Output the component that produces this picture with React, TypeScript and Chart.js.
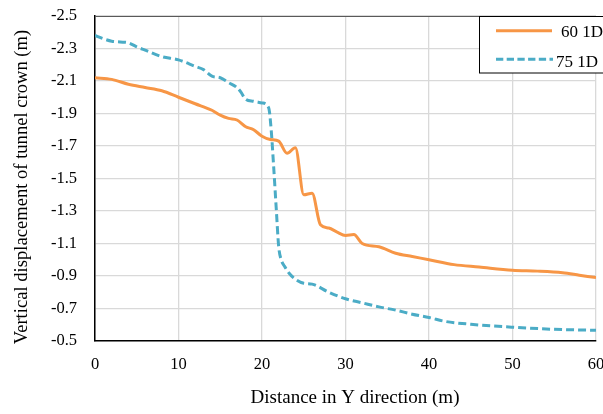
import React, { useEffect, useRef } from "react";
import { Chart, registerables } from "chart.js";

Chart.register(...registerables);

// ---- data ----
const seriesNames = ["60 1D", "75 1D"];

const dist60 = [0, 2, 4, 6, 8, 10, 12, 14, 15, 16, 17, 18, 19, 20, 21, 22, 23, 24, 25, 26, 27, 28, 29, 30, 31, 32, 34, 36, 38, 40, 43, 46, 50, 53, 56, 58, 60];
const disp60 = [-2.12, -2.11, -2.08, -2.06, -2.04, -2.0, -1.96, -1.92, -1.89, -1.87, -1.86, -1.82, -1.8, -1.76, -1.74, -1.73, -1.655, -1.69, -1.4, -1.41, -1.215, -1.195, -1.17, -1.15, -1.155, -1.1, -1.08, -1.04, -1.02, -1.0, -0.97, -0.955, -0.935, -0.93, -0.92, -0.905, -0.89];

const dist75 = [0, 1, 2, 3, 4, 5, 6, 8, 10, 12, 13, 14, 15, 16, 17, 17.5, 18, 19, 20, 20.8, 21.1, 21.4, 21.7, 22, 22.3, 22.7, 23.2, 24, 25, 26, 28, 30, 32, 34, 36, 38, 40, 42, 45, 50, 55, 60];
const disp75 = [-2.38, -2.36, -2.345, -2.34, -2.335, -2.31, -2.29, -2.25, -2.23, -2.19, -2.17, -2.13, -2.12, -2.09, -2.06, -2.03, -1.99, -1.975, -1.965, -1.935, -1.8, -1.57, -1.32, -1.08, -1.0, -0.96, -0.92, -0.88, -0.855, -0.85, -0.8, -0.76, -0.735, -0.71, -0.69, -0.665, -0.645, -0.62, -0.603, -0.585, -0.572, -0.566];

const xTicks = [0, 10, 20, 30, 40, 50, 60];
const yTicks = [-2.5, -2.3, -2.1, -1.9, -1.7, -1.5, -1.3, -1.1, -0.9, -0.7, -0.5];

const xTitle = "Distance in Y direction (m)";
const yTitle = "Vertical displacement of tunnel crown (m)";

const ORANGE = "#F79646";
const BLUE = "#4BACC6";
const FONT = "'Liberation Serif', 'Times New Roman', serif";

const decorPlugin = {
  id: "decor",
  afterDraw(chart: any) {
    const ctx = chart.ctx as CanvasRenderingContext2D;
    const area = chart.chartArea;
    ctx.save();
    // top plot border
    ctx.strokeStyle = "#595959";
    ctx.lineWidth = 1;
    ctx.beginPath();
    ctx.moveTo(area.left, area.top + 0.5);
    ctx.lineTo(chart.width, area.top + 0.5);
    ctx.stroke();

    // axis titles
    ctx.fillStyle = "#000";
    ctx.textAlign = "center";
    ctx.textBaseline = "middle";
    ctx.font = `19px ${FONT}`;
    ctx.fillText(xTitle, 355, 398.5);
    ctx.save();
    ctx.translate(22, 187);
    ctx.rotate(-Math.PI / 2);
    ctx.font = `18.6px ${FONT}`;
    ctx.fillText(yTitle, 0, 0);
    ctx.restore();

    // legend
    const lx = 479.5;
    const ly = area.top + 0.5;
    ctx.fillStyle = "#fff";
    ctx.fillRect(lx, ly, chart.width - lx + 5, 56.5);
    ctx.strokeStyle = "#000";
    ctx.lineWidth = 1;
    ctx.strokeRect(lx, ly, chart.width - lx + 5, 56.5);

    ctx.lineWidth = 3;
    ctx.strokeStyle = ORANGE;
    ctx.setLineDash([]);
    ctx.beginPath();
    ctx.moveTo(496, 30.7);
    ctx.lineTo(552, 30.7);
    ctx.stroke();

    ctx.strokeStyle = BLUE;
    ctx.setLineDash([7.3, 3.4]);
    ctx.beginPath();
    ctx.moveTo(496, 59.3);
    ctx.lineTo(553, 59.3);
    ctx.stroke();
    ctx.setLineDash([]);

    ctx.fillStyle = "#000";
    ctx.textAlign = "left";
    ctx.textBaseline = "alphabetic";
    ctx.font = `17px ${FONT}`;
    ctx.fillText(seriesNames[0], 561, 36.5);
    ctx.fillText(seriesNames[1], 556, 66.5);
    ctx.restore();
  },
};

export default function App() {
  const canvasRef = useRef<HTMLCanvasElement | null>(null);

  useEffect(() => {
    document.body.style.margin = "0";
    const canvas = canvasRef.current;
    if (!canvas) return;
    const chart = new Chart(canvas, {
      type: "line",
      data: {
        datasets: [
          {
            label: seriesNames[0],
            data: dist60.map((x, i) => ({ x, y: disp60[i] })),
            borderColor: ORANGE,
            backgroundColor: ORANGE,
            borderWidth: 3,
            pointRadius: 0,
            cubicInterpolationMode: "monotone",
            fill: false,
          },
          {
            label: seriesNames[1],
            data: dist75.map((x, i) => ({ x, y: disp75[i] })),
            borderColor: BLUE,
            backgroundColor: BLUE,
            borderWidth: 3,
            borderDash: [8, 4],
            pointRadius: 0,
            cubicInterpolationMode: "monotone",
            fill: false,
          },
        ],
      },
      options: {
        animation: false,
        responsive: false,
        devicePixelRatio: 1,
        layout: { padding: { top: 16, right: 7, left: 0, bottom: 0 } },
        plugins: {
          legend: { display: false },
          tooltip: { enabled: false },
          title: { display: false },
        },
        scales: {
          x: {
            type: "linear",
            min: 0,
            max: 60,
            afterBuildTicks: (s: any) => {
              s.ticks = xTicks.map((v) => ({ value: v }));
            },
            afterFit: (s: any) => {
              s.height = 73;
              s.paddingLeft = 0;
              s.paddingRight = 0;
            },
            ticks: {
              color: "#000",
              font: { family: FONT, size: 16.5 },
              padding: 14,
              maxRotation: 0,
              autoSkip: false,
            },
            grid: { color: "#D9D9D9", lineWidth: 1.3, drawTicks: false },
            border: { color: "#000", width: 1.5 },
          },
          y: {
            type: "linear",
            reverse: true,
            min: -2.5,
            max: -0.5,
            afterBuildTicks: (s: any) => {
              s.ticks = yTicks.map((v) => ({ value: v }));
            },
            afterFit: (s: any) => {
              s.width = 95;
              s.paddingTop = 0;
              s.paddingBottom = 0;
            },
            ticks: {
              color: "#000",
              font: { family: FONT, size: 16.5 },
              padding: 18,
              autoSkip: false,
              callback: (v: any) => Number(v).toFixed(1),
            },
            grid: { color: "#D9D9D9", lineWidth: 1.3, drawTicks: false },
            border: { color: "#000", width: 1.5 },
          },
        },
      },
      plugins: [decorPlugin],
    } as any);
    return () => chart.destroy();
  }, []);

  return (
    <div style={{ width: 603, height: 414, background: "#fff" }}>
      <canvas ref={canvasRef} width={603} height={414} style={{ display: "block" }} />
    </div>
  );
}
